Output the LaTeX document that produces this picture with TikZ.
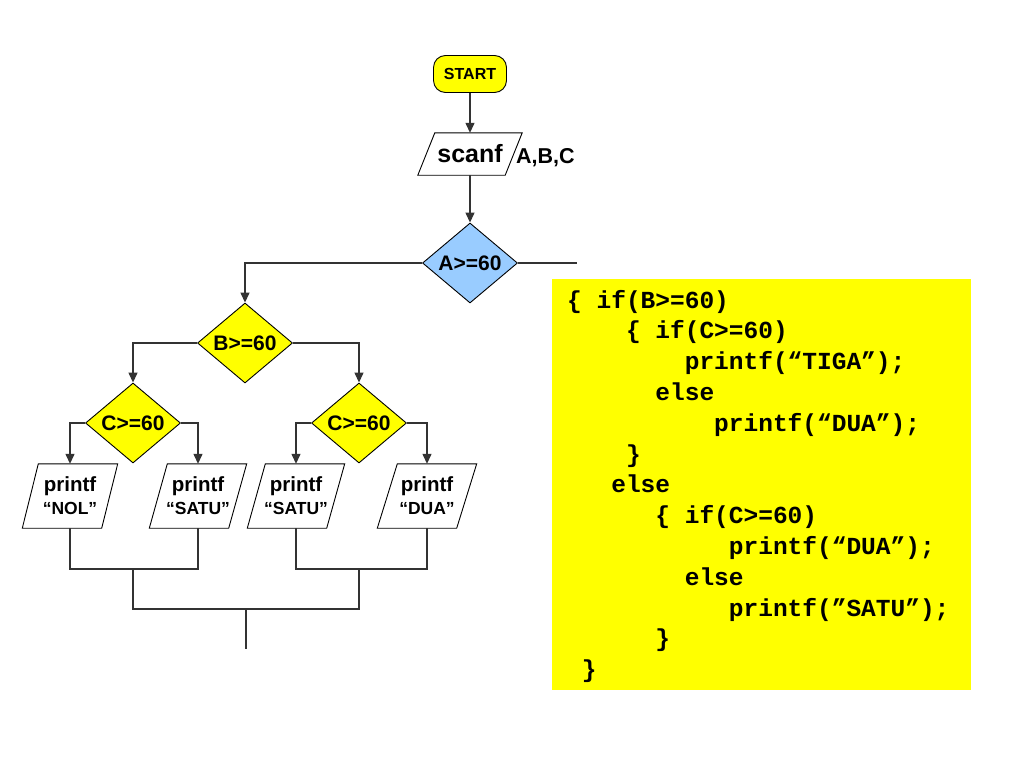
\documentclass[tikz,border=0pt]{standalone}
\usepackage{fontspec}
\setmainfont{Liberation Sans}
\newfontfamily\codefont{Liberation Mono}
\usetikzlibrary{shapes.geometric,arrows.meta}
\definecolor{dblue}{HTML}{99CCFF}
\definecolor{lc}{HTML}{333333}
\definecolor{codey}{HTML}{FFFF00}
\newcommand\ioshape[2]{\draw[iob] ([xshift=#2]#1.north west) -- ([xshift=#2]#1.north east) -- ([xshift=-#2]#1.south east) -- ([xshift=-#2]#1.south west) -- cycle;}
\begin{document}
\begin{tikzpicture}[x=1pt,y=-1pt,
 line/.style={draw=lc,line width=1.3pt},
 arr/.style={line,-{Triangle[length=10pt,width=9pt]}},
 iob/.style={draw=black,line width=0.9pt,line join=miter},
 startbox/.style={rectangle,rounded corners=12pt,draw=black,line width=0.9pt,fill=codey,minimum width=73pt,minimum height=37pt,inner sep=0pt,font=\fontsize{16}{18}\selectfont\bfseries},
 dec/.style={diamond,aspect=1.19,draw=black,line width=0.9pt,fill=codey,minimum width=95pt,minimum height=80pt,inner sep=0pt,font=\fontsize{21}{24}\selectfont\bfseries},
 io/.style={rectangle,minimum width=79pt,minimum height=64pt,inner sep=0pt,align=center,font=\fontsize{17.5}{23}\selectfont\bfseries},
 codeline/.style={anchor=base west,inner sep=0pt,font=\codefont\fontsize{24.5}{30}\selectfont\bfseries}]
\useasboundingbox[fill=white] (0,0) rectangle (1024,768);

% flowchart nodes
\node[startbox] (start) at (470,74) {START};
\node[rectangle,minimum width=87pt,minimum height=42pt,inner sep=0pt,font=\fontsize{25}{28}\selectfont\bfseries] (scanf) at (470,154) {scanf};
\ioshape{scanf}{8.5pt}
\node[anchor=west,inner sep=0pt,font=\fontsize{21.5}{24}\selectfont\bfseries] (abc) at (516,158) {A,B,C};
\node[dec,fill=dblue] (a) at (470,263) {A>=60};
\node[dec] (b) at (245,343) {B>=60};
\node[dec] (c1) at (133,423) {C>=60};
\node[dec] (c2) at (359,423) {C>=60};
\node[io] (p1) at (70,496) {{\fontsize{20.5}{23}\selectfont printf}\\“NOL”};
\node[io] (p2) at (198,496) {{\fontsize{20.5}{23}\selectfont printf}\\“SATU”};
\node[io] (p3) at (296,496) {{\fontsize{20.5}{23}\selectfont printf}\\“SATU”};
\node[io] (p4) at (427,496) {{\fontsize{20.5}{23}\selectfont printf}\\“DUA”};
\ioshape{p1}{8pt}
\ioshape{p2}{9pt}
\ioshape{p3}{9pt}
\ioshape{p4}{10pt}

\coordinate (aout) at (577,263);
\coordinate (j1) at (133,569);
\coordinate (j2) at (359,569);
\coordinate (j3) at (246,609);
\coordinate (fin) at (246,649);

% connectors
\draw[arr] (start) -- (scanf);
\draw[arr] (scanf) -- (a);
\draw[arr] (a.west) -| (b.north);
\draw[line] (a.east) -- (aout);
\draw[arr] (b.west) -| (c1.north);
\draw[arr] (b.east) -| (c2.north);
\draw[arr] (c1.west) -| (p1.north);
\draw[arr] (c1.east) -| (p2.north);
\draw[arr] (c2.west) -| (p3.north);
\draw[arr] (c2.east) -| (p4.north);
\draw[line] (p1.south) |- (j1) -| (p2.south);
\draw[line] (p3.south) |- (j2) -| (p4.south);
\draw[line] (j1) |- (j3) -| (j2);
\draw[line] (j3) -- (fin);

% code panel
\node[rectangle,fill=codey,minimum width=419pt,minimum height=411pt,anchor=north west,inner sep=0pt] (code) at (552,279) {};
\node[codeline] (l1) at (567.0,308.0) {\{ if(B>=60)};
\node[codeline] (l2) at (625.8,338.8) {\{ if(C>=60)};
\node[codeline] (l3) at (684.6,369.6) {printf(“TIGA”);};
\node[codeline] (l4) at (655.2,400.4) {else};
\node[codeline] (l5) at (714.0,431.2) {printf(“DUA”);};
\node[codeline] (l6) at (625.8,462.0) {\}};
\node[codeline] (l7) at (611.1,492.8) {else};
\node[codeline] (l8) at (655.2,523.6) {\{ if(C>=60)};
\node[codeline] (l9) at (728.7,554.4) {printf(“DUA”);};
\node[codeline] (l10) at (684.6,585.2) {else};
\node[codeline] (l11) at (728.7,616.0) {printf(”SATU”);};
\node[codeline] (l12) at (655.2,646.8) {\}};
\node[codeline] (l13) at (581.7,677.6) {\}};
\end{tikzpicture}
\end{document}
